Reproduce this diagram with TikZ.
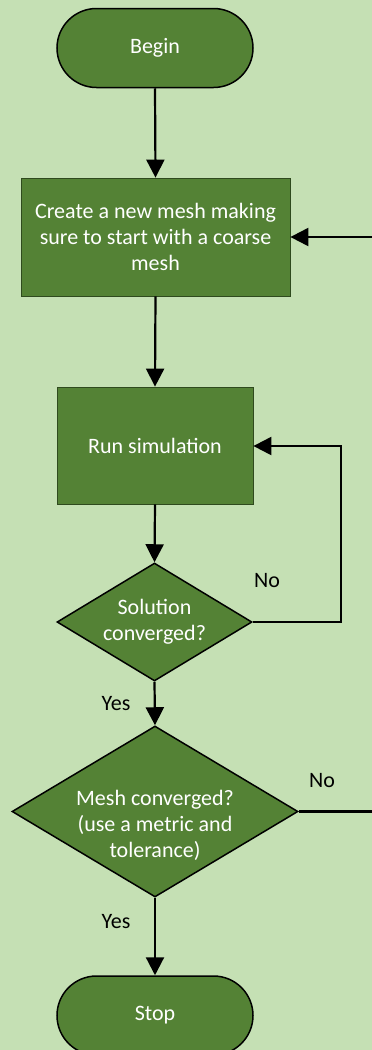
\documentclass[tikz,border=0pt]{standalone}
\usepackage{fontspec}
\setmainfont{Carlito}
\usetikzlibrary{shapes.geometric,arrows.meta}
\definecolor{bg}{HTML}{C5E0B4}
\definecolor{nodefill}{HTML}{548235}
\definecolor{rectedge}{HTML}{2F4A1E}
\begin{document}
\begin{tikzpicture}[x=1pt,y=-1pt,
  base/.style={fill=nodefill,text=white,align=center,font=\fontsize{22}{26}\selectfont},
  term/.style={base,draw=black,line width=1.5pt,rectangle,rounded corners=39.5pt,minimum width=196pt,minimum height=79pt,inner sep=0pt},
  procbox/.style={base,draw=rectedge,line width=0.8pt,rectangle,inner sep=0pt},
  decision/.style={base,draw=black,line width=1.5pt,diamond,inner sep=0pt},
  conn/.style={line width=2.2pt,-{Triangle[length=18pt,width=18pt]}},
  lbl/.style={font=\fontsize{22}{26}\selectfont,text=black}]
\useasboundingbox (0,0) rectangle (372,1050);
\clip (0,0) rectangle (372,1050);
\fill[bg] (0,0) rectangle (372,1050);

\node[term] (begin) at (155,48) {Begin};
\node[procbox,minimum width=269pt,minimum height=118pt] (create) at (155.5,237) {Create a new mesh making\\sure to start with a coarse\\mesh};
\node[procbox,minimum width=196pt,minimum height=117pt] (run) at (155,445.5) {Run simulation};
\node[decision,minimum width=195pt,minimum height=118pt,aspect=1.65] (sol) at (154.5,622) {Solution\\converged?};
\node[decision,minimum width=286pt,minimum height=171pt,aspect=1.68] (mesh) at (155,811.5) {\raisebox{-20pt}[0pt][0pt]{\begin{tabular}{@{}c@{}}Mesh converged?\\(use a metric and\\tolerance)\end{tabular}}};
\node[term] (stop) at (155,1015.5) {Stop};

\coordinate (c1) at (380,811.5);
\coordinate (c2) at (380,237);
\coordinate (s1) at (341,622);
\coordinate (s2) at (341,446);

\draw[conn] (begin.south) -- (create.north);
\draw[conn] (create.south) -- (run.north);
\draw[conn] (run.south) -- (sol.north);
\draw[conn] (sol.south) -- (mesh.north);
\draw[conn] (mesh.south) -- (stop.north);
\draw[conn] (sol.east) -- (s1) -- (s2) -- (run.east |- s2);
\draw[conn] (mesh.east) -- (c1) -- (c2) -- (create.east |- c2);

\node[lbl] (no1) at (267,581) {No};
\node[lbl] (yes1) at (116,704) {Yes};
\node[lbl] (no2) at (322,781) {No};
\node[lbl] (yes2) at (116,922) {Yes};
\end{tikzpicture}
\end{document}
